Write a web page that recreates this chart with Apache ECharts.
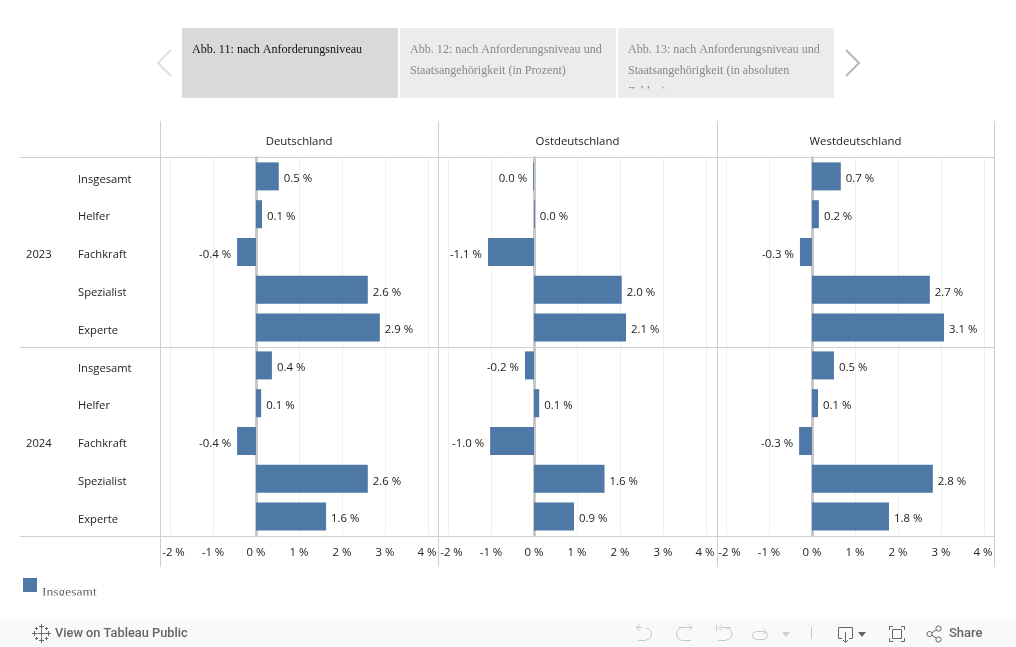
<!DOCTYPE html>
<html>
<head>
<meta charset="utf-8">
<style>html,body{margin:0;padding:0;background:#fff}#c{width:1016px;height:647px}</style>
<script src="https://cdn.jsdelivr.net/npm/echarts@6/dist/echarts.min.js"></script>
</head>
<body>
<div id="c"></div>
<script>
const levels = ['Insgesamt','Helfer','Fachkraft','Spezialist','Experte'];
const years = ['2023','2024'];
const regions = ['Deutschland','Ostdeutschland','Westdeutschland'];
const deutschland = [0.53,0.14,-0.44,2.6,2.88, 0.37,0.12,-0.44,2.6,1.63];
const ostdeutschland = [-0.02,0.02,-1.07,2.04,2.14, -0.21,0.12,-1.02,1.64,0.93];
const westdeutschland = [0.67,0.16,-0.28,2.74,3.07, 0.51,0.14,-0.3,2.81,1.79];
const tickValues = [-2,-1,0,1,2,3,4];
const tabs = [
  ['Abb. 11: nach Anforderungsniveau'],
  ['Abb. 12: nach Anforderungsniveau und','Staatsangehörigkeit (in Prozent)'],
  ['Abb. 13: nach Anforderungsniveau und','Staatsangehörigkeit (in absoluten','Zahlen)']
];

const values = [deutschland, ostdeutschland, westdeutschland];
const SANS = '"Open Sans", sans-serif';
const SERIF = '"Liberation Serif", serif';
const INK = '#222';
const cats = years.flatMap(() => levels);
const yearCats = years.flatMap(y => ['', '', y, '', '']);
const panes = [[160.5,438.5,256],[438.5,717.5,534],[717.5,994.5,812]];
const PX = 43;
const TOP = 157.5, BOT = 535.5;

const fmt = v => (Math.abs(v) < 0.05 ? '0.0' : v.toFixed(1)) + ' %';

const grid = [], xAxis = [], yAxis = [], series = [], graphic = [];
const txt = (size, extra) => Object.assign({fontFamily:SANS, fontSize:size, color:INK}, extra);
panes.forEach((p, i) => {
  grid.push({left:p[0], width:p[1]-p[0], top:TOP, height:BOT-TOP, containLabel:false});
  xAxis.push({
    type:'value', gridIndex:i,
    min:(p[0]-p[2])/PX, max:(p[1]-p[2])/PX,
    axisLine:{show:false},
    axisTick:{show:false, customValues:tickValues},
    splitLine:{show:true, lineStyle:{color:'#f0f0f0', width:1}},
    axisLabel:{
      margin:12, fontFamily:SANS, fontSize:11.4, color:INK,
      customValues:tickValues,
      formatter:v => v === -2 ? '{b|' + v + ' %}' : v === 4 ? '{c|' + v + ' %}' : v + ' %',
      rich:{
        b:txt(11.4,{padding:[0,0,0,7]}),
        c:txt(11.4,{padding:[0,2,0,0]})
      }
    }
  });
  // zero line
  yAxis.push({
    type:'category', gridIndex:i, inverse:true, data:cats,
    axisLine:{show:true, onZero:true, lineStyle:{color:'#c8c8c8', width:3}},
    axisTick:{show:false}, axisLabel:{show:false}, splitLine:{show:false}
  });
  series.push({
    name:'Insgesamt', type:'bar', xAxisIndex:i, yAxisIndex:i,
    barWidth:28, itemStyle:{color:'#4e79a7'},
    data:values[i].map(v => ({
      value:v,
      label: v < 0 ? {position:'left', distance:6} : {position:'right', distance:5}
    })),
    label:{show:true,
      formatter:o => '{v|' + fmt(o.value) + '}',
      rich:{v:txt(11.4,{padding:[5,0,0,0]})}},
    emphasis:{disabled:true}, animation:false
  });
});
// row-header axes on the first grid
const rowLabel = margin => ({
  margin, align:'left', interval:0,
  formatter:v => v ? '{r|' + v + '}' : '',
  rich:{r:txt(11.2,{padding:[6,0,0,0], align:'left'})}
});
yAxis.push({
  type:'category', gridIndex:0, inverse:true, data:cats, position:'left',
  axisLine:{show:false, onZero:false}, axisTick:{show:false},
  axisLabel:rowLabel(82.5)
});
yAxis.push({
  type:'category', gridIndex:0, inverse:true, data:yearCats, position:'left',
  axisLine:{show:false, onZero:false}, axisTick:{show:false},
  axisLabel:rowLabel(134.5)
});
// dummy series so both header axes are bound and rendered
[panes.length, panes.length+1].forEach(idx => {
  series.push({type:'bar', xAxisIndex:0, yAxisIndex:idx, data:[], silent:true});
});

// table rules
const RULE = '#cfcfcf';
const line = (x1,y1,x2,y2,color,w) => ({type:'line', silent:true, z:1,
  shape:{x1,y1,x2,y2}, style:{stroke:color||RULE, lineWidth:w||1}});
[160.5,438.5,717.5,994.5].forEach(x => graphic.push(line(x,121,x,567)));
[157.5,347.5,536.5].forEach(y => graphic.push(line(20,y,994.5,y)));

// column headers
regions.forEach((r,i) => graphic.push({type:'text', silent:true, z:5,
  x:[299,577.5,855.5][i], y:142,
  style:{text:r, font:'11.4px '+SANS, fill:INK, textAlign:'center', textVerticalAlign:'middle'}}));

// tabs
const tabBoxes = [[182,'#d9d9d9','#111'],[400,'#ececec','#888'],[618,'#ececec','#888']];
tabBoxes.forEach((t,i) => {
  graphic.push({type:'rect', silent:true, z:1, shape:{x:t[0],y:28,width:216,height:70}, style:{fill:t[1]}});
  tabs[i].forEach((s,j) => graphic.push({type:'text', silent:true, z:2,
    x:t[0]+10, y:50+j*21,
    style:{text:s, font:'12.1px '+SERIF, fill:t[2], textVerticalAlign:'middle'}}));
});
graphic.push({type:'rect', silent:true, z:3, shape:{x:618,y:88.5,width:216,height:9.5}, style:{fill:'#ececec'}});
// carousel arrows
graphic.push({type:'polyline', silent:true, z:2, shape:{points:[[171,50],[158,63],[171,76]]}, style:{stroke:'#e0e0e0', lineWidth:2, fill:null}});
graphic.push({type:'polyline', silent:true, z:2, shape:{points:[[846,50],[859,63],[846,76]]}, style:{stroke:'#b8b8b8', lineWidth:2, fill:null}});

// clip legend text
graphic.push({type:'rect', silent:true, z:50, shape:{x:20,y:595.5,width:200,height:20}, style:{fill:'#fff'}});

// toolbar
graphic.push({type:'rect', silent:true, z:1, shape:{x:0,y:620,width:1016,height:27}, style:{fill:'#f9f9f9'}});
graphic.push({type:'text', silent:true, z:2, x:55, y:633.5, style:{text:'View on Tableau Public', font:'500 12.8px Roboto', fill:'#666', textVerticalAlign:'middle'}});
graphic.push({type:'text', silent:true, z:2, x:949, y:633.5, style:{text:'Share', font:'500 13px Roboto', fill:'#666', textVerticalAlign:'middle'}});
// tableau mark
const cross = (x,y,r) => [line(x-r,y,x+r,y,'#666',1), line(x,y-r,x,y+r,'#666',1)];
[[41.5,633.5,4],[41.5,626.5,2.5],[41.5,640.5,2.5],[34.5,633.5,2.5],[48.5,633.5,2.5],[36.5,628.5,1.5],[46.5,628.5,1.5],[36.5,638.5,1.5],[46.5,638.5,1.5]]
  .forEach(c => cross(c[0],c[1],c[2]).forEach(l => {l.z=2; graphic.push(l);}));
const pl = (pts,c,w) => ({type:'polyline', silent:true, z:2, shape:{points:pts}, style:{stroke:c,lineWidth:w||1,fill:null}});
const arc = (cx,cy,r,a,b,c) => ({type:'arc', silent:true, z:2, shape:{cx,cy,r,startAngle:a,endAngle:b,clockwise:true}, style:{stroke:c,lineWidth:1,fill:null}});
const G = '#c8c8c8';
// undo
graphic.push(pl([[642,627.5],[636.5,627.5],[640,631]],G), pl([[640,624.5],[636.5,627.5]],G), arc(645.5,634,6,-Math.PI/2,Math.PI/2,G), pl([[645,640.5],[638,640.5]],G));
// redo
graphic.push(pl([[679,627.5],[692,627.5]],G), pl([[689,624.5],[692,627.5],[689,630.5]],G), arc(683,634,6.5,Math.PI/2,Math.PI*1.5,G), pl([[683,640.5],[691,640.5]],G));
// revert
graphic.push(pl([[716.5,625],[716.5,631]],G), pl([[721,627.5],[731,627.5]],G), pl([[722,624.5],[719,627.5],[722,630.5]],G), arc(726,634,6,-Math.PI/2,Math.PI/2,G), pl([[726,640.5],[718,640.5]],G));
// refresh
graphic.push({type:'rect', silent:true, z:2, shape:{x:752.5,y:631.5,width:15,height:8,r:4}, style:{stroke:G,fill:null,lineWidth:1}});
graphic.push(pl([[763,629],[766,631.5],[763,634]],G));
// dropdown (disabled)
graphic.push({type:'polygon', silent:true, z:2, shape:{points:[[782,632],[790,632],[786,637]]}, style:{fill:'#d0d0d0'}});
graphic.push(line(811.5,627,811.5,639,'#c8c8c8'));
// download
const D='#666';
graphic.push(pl([[842,638.5],[838.5,638.5],[838.5,627.5],[852.5,627.5],[852.5,638.5],[849,638.5]],D));
graphic.push(pl([[845.5,632],[845.5,642]],D), pl([[843,640],[845.5,642.5],[848,640]],D));
graphic.push({type:'polygon', silent:true, z:2, shape:{points:[[858,632],[866,632],[862,637]]}, style:{fill:D}});
// fullscreen
graphic.push({type:'rect', silent:true, z:2, shape:{x:892.5,y:629.5,width:9,height:9}, style:{stroke:D,fill:null,lineWidth:1}});
graphic.push(pl([[889.5,630],[889.5,626.5],[893,626.5]],D), pl([[901,626.5],[904.5,626.5],[904.5,630]],D), pl([[889.5,638],[889.5,641.5],[893,641.5]],D), pl([[901,641.5],[904.5,641.5],[904.5,638]],D));
// share
[[929.5,634],[938.5,628.5],[938.5,639.5]].forEach(c => graphic.push({type:'circle', silent:true, z:2, shape:{cx:c[0],cy:c[1],r:2.6}, style:{stroke:D,fill:null,lineWidth:1}}));
graphic.push(pl([[932,632.7],[936.2,630]],D), pl([[932,635.3],[936.2,638]],D));

const chart = echarts.init(document.getElementById('c'), null, {renderer:'canvas'});
chart.setOption({
  animation:false,
  backgroundColor:'#fff',
  legend:{show:true, left:23, top:578, itemWidth:14, itemHeight:14, itemGap:5, selectedMode:false, padding:0,
    data:[{name:'Insgesamt', icon:'rect'}],
    formatter:'{a|{name}}',
    textStyle:{rich:{a:{fontFamily:SERIF, fontSize:13.5, color:'#666', padding:[14,0,0,0]}}}},
  tooltip:{show:false},
  grid, xAxis, yAxis, series, graphic
});
</script>
</body>
</html>
